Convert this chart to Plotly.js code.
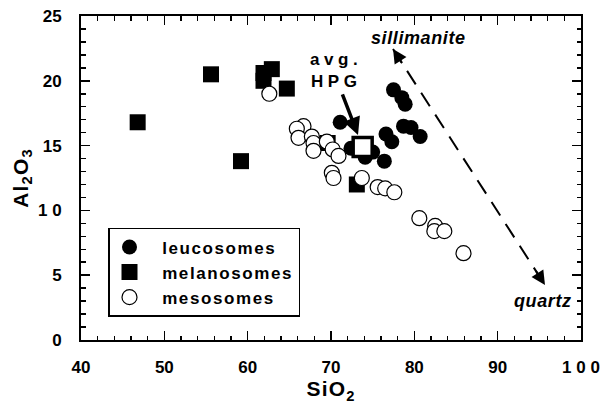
<!DOCTYPE html>
<html>
<head>
<meta charset="utf-8">
<script src="https://cdn.plot.ly/plotly-3.0.1.min.js"></script>
<style>
html,body{margin:0;padding:0;background:#fff;}
.legendtext{letter-spacing:1.6px;}
.annotation-text{letter-spacing:0.6px;}
.xtitle,.ytitle{letter-spacing:1.2px;}
</style>
</head>
<body>
<div id="chart" style="width:604px;height:405px;"></div>
<script>
// ---- data (SiO2, Al2O3 wt%) ----
const leucoSiO2  = [71.1, 72.4, 74.1, 75.0, 76.4, 76.6, 77.3, 77.5, 78.5, 78.9, 78.7, 79.6, 80.7];
const leucoAl2O3 = [16.8, 14.8, 14.1, 14.5, 13.8, 15.9, 15.3, 19.3, 18.7, 18.2, 16.5, 16.4, 15.7];

const melanoSiO2  = [46.8, 55.6, 59.2, 61.9, 61.9, 62.9, 64.7, 69.6, 73.1];
const melanoAl2O3 = [16.8, 20.5, 13.8, 20.6, 20.0, 20.9, 19.4, 15.2, 12.0];

const mesoSiO2  = [62.6, 66.7, 65.9, 66.1, 67.7, 67.9, 67.9, 69.5, 70.2, 70.9, 70.1, 70.3, 73.7, 75.6, 76.5, 77.6, 80.6, 82.5, 82.4, 83.6, 85.9];
const mesoAl2O3 = [19.0, 16.5, 16.3, 15.6, 15.7, 15.2, 14.6, 15.3, 14.7, 14.2, 12.9, 12.5, 12.5, 11.8, 11.7, 11.4,  9.4,  8.8,  8.4,  8.4,  6.7];

const hpgSiO2  = [73.8];
const hpgAl2O3 = [14.9];

const seriesNames = ['leucosomes', 'melanosomes', 'mesosomes'];

const xTickVals = [40, 50, 60, 70, 80, 90, 100];
const xTickText = ['40', '50', '60', '70', '80', '90', '1 0 0'];
const yTickVals = [0, 5, 10, 15, 20, 25];
const yTickText = ['0', '5', '1 0', '15', '20', '25'];

// trend arrow end points (data units)
const silPoint = [77.44, 22.45];
const qtzPoint = [95.68, 4.24];
const hpgArrowTail = [71.3, 19.06];
const hpgArrowTip  = [73.24, 15.82];

const FONT = 'Liberation Sans, Arial, Helvetica, sans-serif';
const nb = '\u00a0';

const traces = [
  {x: melanoSiO2, y: melanoAl2O3, name: nb+nb+seriesNames[1], type: 'scatter', mode: 'markers', legendrank: 2,
   marker: {symbol: 'square', size: 16, color: '#000', line: {width: 0}}},
  {x: leucoSiO2, y: leucoAl2O3, name: nb+nb+seriesNames[0], type: 'scatter', mode: 'markers', legendrank: 1,
   marker: {symbol: 'circle', size: 15, color: '#000', line: {width: 0}}},
  {x: mesoSiO2, y: mesoAl2O3, name: nb+nb+seriesNames[2], type: 'scatter', mode: 'markers', legendrank: 3,
   marker: {symbol: 'circle', size: 15, color: '#fff', line: {width: 1.2, color: '#000'}}},
  {x: hpgSiO2, y: hpgAl2O3, name: 'avg. HPG', type: 'scatter', mode: 'markers', showlegend: false,
   marker: {symbol: 'square', size: 19, color: '#fff', line: {width: 3.5, color: '#000'}}}
];

function axisCommon() {
  return {
    showgrid: false, zeroline: false, showline: true, linecolor: '#000', linewidth: 2,
    mirror: 'ticks', ticks: 'inside', ticklen: 9, tickwidth: 1.5, tickcolor: '#000',
    tickfont: {family: FONT, size: 17, color: '#000', weight: 'bold'}
  };
}

const xaxis = Object.assign(axisCommon(), {
  range: [40, 100], tickmode: 'array', tickvals: xTickVals, ticktext: xTickText,
  ticklabelstandoff: 11,
  minor: {dtick: 2, ticks: 'inside', ticklen: 4.5, tickwidth: 1.5, tickcolor: '#000', showgrid: false},
  title: {text: 'SiO<sub>2</sub>', font: {family: FONT, size: 21, color: '#000', weight: 'bold'}, standoff: 3}
});
const yaxis = Object.assign(axisCommon(), {
  range: [0, 25], tickmode: 'array', tickvals: yTickVals, ticktext: yTickText,
  ticklabelstandoff: 14,
  minor: {dtick: 1, ticks: 'inside', ticklen: 4.5, tickwidth: 1.5, tickcolor: '#000', showgrid: false},
  title: {text: 'Al<sub>2</sub>O<sub>3</sub>', font: {family: FONT, size: 21, color: '#000', weight: 'bold'}, standoff: 4}
});

const annFont = {family: FONT, size: 18, color: '#000', weight: 'bold'};
const layout = {
  width: 604, height: 405,
  margin: {l: 81, r: 23, t: 16, b: 65},
  paper_bgcolor: '#fff', plot_bgcolor: '#fff',
  font: {family: FONT, color: '#000'},
  xaxis: xaxis, yaxis: yaxis,
  showlegend: true,
  legend: {x: 0.054, y: 0.346, xanchor: 'left', yanchor: 'top', bgcolor: '#fff',
           bordercolor: '#000', borderwidth: 1.5,
           font: {family: FONT, size: 17, color: '#000', weight: 'bold'}},
  shapes: [
    {type: 'line', xref: 'x', yref: 'y', x0: silPoint[0], y0: silPoint[1], x1: qtzPoint[0], y1: qtzPoint[1],
     line: {color: '#000', width: 2, dash: '16px,10px'}}
  ],
  annotations: [
    {xref: 'x', yref: 'y', axref: 'x', ayref: 'y', x: silPoint[0], y: silPoint[1],
     ax: silPoint[0] + 1.2, ay: silPoint[1] - 1.2, text: '', showarrow: true,
     arrowhead: 2, arrowwidth: 2, arrowsize: 1.4, arrowcolor: '#000', standoff: 0},
    {xref: 'x', yref: 'y', axref: 'x', ayref: 'y', x: qtzPoint[0], y: qtzPoint[1],
     ax: qtzPoint[0] - 1.2, ay: qtzPoint[1] + 1.2, text: '', showarrow: true,
     arrowhead: 2, arrowwidth: 2, arrowsize: 1.4, arrowcolor: '#000', standoff: 0},
    {xref: 'x', yref: 'y', axref: 'x', ayref: 'y', x: hpgArrowTip[0], y: hpgArrowTip[1],
     ax: hpgArrowTail[0], ay: hpgArrowTail[1], text: '', showarrow: true,
     arrowhead: 2, arrowwidth: 3.5, arrowsize: 1, arrowcolor: '#000', standoff: 0},
    {xref: 'x', yref: 'y', x: 80.5, y: 23.3, text: '<i>sillimanite</i>', showarrow: false,
     font: annFont, xanchor: 'center', yanchor: 'middle'},
    {xref: 'x', yref: 'y', x: 99.15, y: 3.0, text: '<i>quartz</i>', showarrow: false,
     font: annFont, xanchor: 'right', yanchor: 'middle'},
    {xref: 'x', yref: 'y', x: 70.36, y: 20.83, text: 'a\u2009v\u2009g\u2009.<br>H\u2009P\u2009G', showarrow: false,
     font: {family: FONT, size: 17, color: '#000', weight: 'bold'}, xanchor: 'center', yanchor: 'middle'}
  ]
};

Plotly.newPlot('chart', traces, layout, {staticPlot: true, displayModeBar: false});
</script>
</body>
</html>
